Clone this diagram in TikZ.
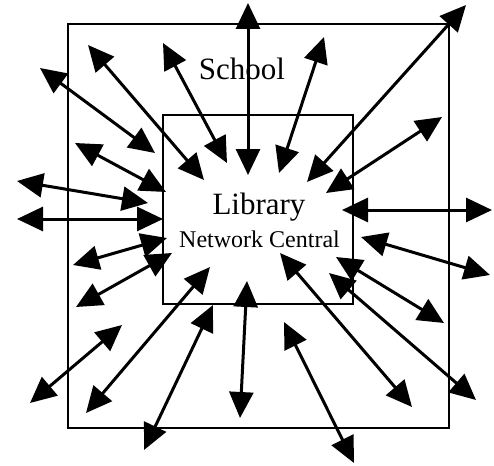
\documentclass[tikz,border=0pt]{standalone}
\usepackage{fontspec}
\setmainfont{Liberation Serif}
\usetikzlibrary{arrows.meta}

\begin{document}
\begin{tikzpicture}[x=1pt,y=-1pt,
    box/.style={draw, line width=2.6pt, inner sep=0pt},
    link/.style={line width=3pt, {Triangle[length=26pt,width=24pt]}-{Triangle[length=26pt,width=24pt]}}]
            \useasboundingbox (0,0) rectangle (494,465);

            \node[box, minimum width=381pt, minimum height=404pt] (schoolbox) at (258.5,226) {};
            \node[box, minimum width=190pt, minimum height=189pt] (librarybox) at (258,209.5) {};

            \node[anchor=base, font=\fontsize{31}{31}\selectfont] (school) at (242,80) {School};
            \node[anchor=base, font=\fontsize{31}{31}\selectfont] (library) at (259,214) {Library};
            \node[anchor=base, font=\fontsize{24}{24}\selectfont] (central) at (259.5,247) {Network Central};

            \foreach \i/\ax/\ay/\bx/\by in {
                1/248/3/248/175, 2/88/45/204/180, 3/163/43/227/163,
                4/40/68/155/153, 5/75/143/166/192, 6/17/181/148/203,
                7/17/219/163/219, 8/324/37/279/173, 9/466/5/307/182,
                10/442/117/326/193, 11/342/210/492/210, 12/73/265/167/238,
                13/76/307/172/253, 14/30/403/122/325, 15/86/413/210/267,
                16/144/450/213/305, 17/247/281/240/418, 18/361/237/490/275,
                19/336/257/444/323, 20/329/273/476/400, 21/280/253/412/407,
                22/284/322/354/463} {
                \coordinate (out\i) at (\ax,\ay);
                \coordinate (in\i) at (\bx,\by);
                \draw[link] (out\i) -- (in\i);
            }
        \end{tikzpicture}
\end{document}
